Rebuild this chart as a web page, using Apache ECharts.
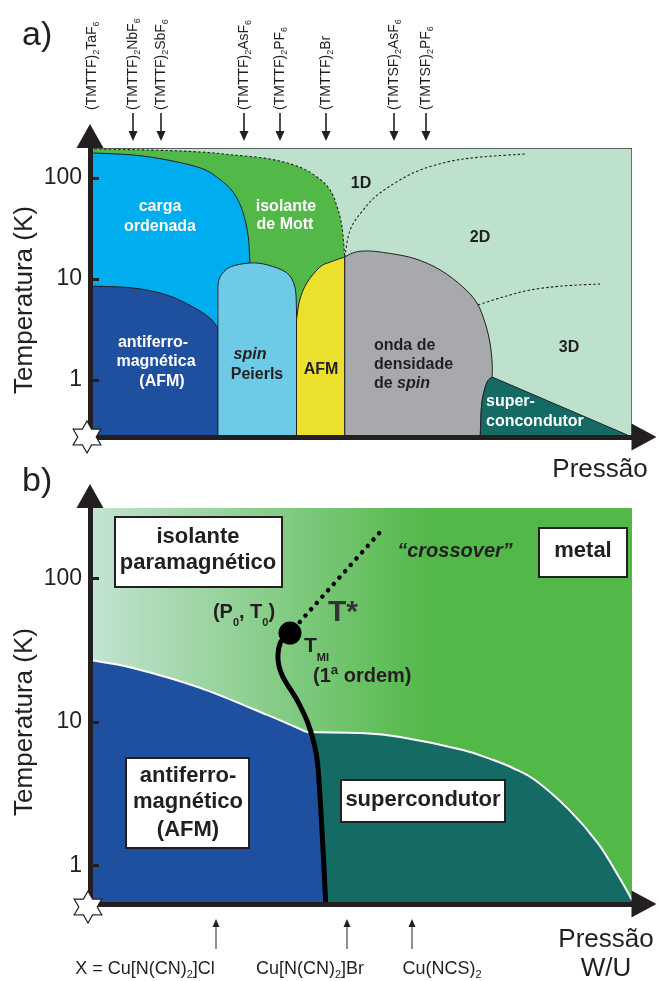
<!DOCTYPE html>
<html><head><meta charset="utf-8">
<script src="https://cdn.jsdelivr.net/npm/echarts@6/dist/echarts.min.js"></script>
<style>html,body{margin:0;padding:0;background:#fff;}#chart{width:659px;height:981px;}</style>
</head><body><div id="chart"></div>
<script>
// ===================== DATA =====================
// pressure in arbitrary units (0-100), temperature in K
const pressureRange = [0, 100];
const tempRangeA = [0.2727, 198];
const tempRangeB = [0.539, 310];
const tempTicks = [1, 10, 100];

// ---- panel a) (TMTTF)2X / (TMTSF)2X ----
const mottTopA = [[0,194],[11.1,189],[20.3,181],[26.4,169],[33.2,154],[38.7,128],[42.1,100],[44.3,76],[45.6,51.6],[46.5,32.7],[47.0,16.5]];
const chargeOrderTopA = [[0,177],[7.9,169],[14.2,151],[20.3,126],[23.4,102],[26.4,72.7],[28.2,46.1],[29.2,26.1],[29.5,14.4]];
const afmTopA = [[0,8.52],[7.9,8.15],[14.2,6.94],[19.0,5.28],[22.1,4.11],[23.6,3.27]];
const spinPeierlsTopA = [[23.6,8.33],[24.0,10.5],[25.8,13.1],[29.5,14.4],[32.7,13.8],[36.3,11.5],[37.8,8.33],[38.1,4.93]];
const afmDomeTopA = [[38.1,3.93],[38.7,6.2],[40.0,9.13],[42.4,13.1],[44.3,14.7],[47.0,16.5]];
const sdwTopA = [[47.0,16.5],[48.5,18.1],[50.4,18.9],[53.5,18.5],[59.6,16.1],[64.6,12.3],[68.8,8.33],[71.4,5.78],[72.9,3.67],[73.8,2.32],[74.2,1.47],[74.2,1.07]];
const scLeftA = [[74.2,1.07],[73.2,0.934],[72.3,0.592],[72.0,0.2727]];
const crossover1D2D = [[47.0,16.5],[48.0,30.6],[50.4,48.2],[53.5,71.0],[59.6,112],[65.9,144],[72.0,161],[80.6,173]];
const crossover2D3D = [[71.6,5.53],[76.2,6.63],[81.2,7.78],[87.3,8.53],[94.1,8.92]];
const compoundsA = ['(TMTTF){s|2}TaF{s|6}','(TMTTF){s|2}NbF{s|6}','(TMTTF){s|2}SbF{s|6}','(TMTTF){s|2}AsF{s|6}','(TMTTF){s|2}PF{s|6}','(TMTTF){s|2}Br','(TMTSF){s|2}AsF{s|6}','(TMTSF){s|2}PF{s|6}'];
const compoundArrowA = [false,true,true,true,true,true,true,true];

// ---- panel b) kappa-(BEDT-TTF)2X ----
const afmTopB = [[0,27.0],[7.9,23.8],[20.3,17.3],[32.7,11.2],[40.0,8.51]];
const scTopB = [[40.0,8.51],[49.8,8.38],[57.2,7.86],[68.8,6.38],[74.4,5.43],[78.0,4.78],[82.1,3.94],[88.4,2.44],[93.7,1.43],[97.6,0.832],[100,0.575]];
const firstOrderB = [[36.9,41.7],[35.1,35.5],[34.7,27.0],[35.6,20.6],[38.2,14.2],[40.2,9.84],[41.5,6.70],[42.1,4.63],[42.8,1.77],[43.5,0.539]];
const criticalPointB = [36.9, 41.7];
const crossoverB = [[38.7,49.8],[54.2,225]];
const saltsB = ['X = Cu[N(CN){s|2}]Cl','Cu[N(CN){s|2}]Br','Cu(NCS){s|2}'];

// ===================== RENDERING =====================
const INK = '#231f20';
const FONT = '"Liberation Sans", Arial, sans-serif';

function smoothSeg(px) {
  let d = '';
  const n = px.length;
  if (n < 2) return d;
  if (n === 2) return ' L' + px[1][0] + ',' + px[1][1];
  for (let i = 0; i < n - 1; i++) {
    const p0 = px[i - 1] || px[i], p1 = px[i], p2 = px[i + 1], p3 = px[i + 2] || px[i + 1];
    const c1 = [p1[0] + (p2[0] - p0[0]) / 6, p1[1] + (p2[1] - p0[1]) / 6];
    const c2 = [p2[0] - (p3[0] - p1[0]) / 6, p2[1] - (p3[1] - p1[1]) / 6];
    d += ' C' + c1[0] + ',' + c1[1] + ',' + c2[0] + ',' + c2[1] + ',' + p2[0] + ',' + p2[1];
  }
  return d;
}
function buildPath(api, runs, close) {
  let d = '';
  runs.forEach((run, k) => {
    const px = run.map(p => api.coord(p));
    d += (k === 0 ? 'M' : ' L') + px[0][0] + ',' + px[0][1];
    d += smoothSeg(px);
  });
  if (close) d += ' Z';
  return d;
}
let zc = 2;
function pathSeries(gi, runs, style, close = true) {
  return {
    type: 'custom', xAxisIndex: gi, yAxisIndex: gi, z: zc++, clip: true, silent: true,
    data: [runs[0][0]],
    renderItem: (params, api) => ({
      type: 'path', shape: { pathData: buildPath(api, runs, close) }, style: Object.assign({}, style)
    })
  };
}

const aMin = tempRangeA[0], aMax = tempRangeA[1];
const bMin = tempRangeB[0], bMax = tempRangeB[1];
const pL = pressureRange[0], pR = pressureRange[1];
const edge = { stroke: INK, lineWidth: 1 };
const dash = { fill: 'none', stroke: INK, lineWidth: 1.1, lineDash: [2.5, 2.2] };

const series = [
  // ---- panel a ----
  pathSeries(0, [[[pL, aMin]], [[pL, aMax]], [[pR, aMax]], [[pR, aMin]]], { fill: '#bde1cd' }),
  pathSeries(0, [mottTopA, [[47.0, aMin]], [[pL, aMin]]], { fill: '#52b848' }),
  pathSeries(0, [mottTopA], dash, false),
  pathSeries(0, [chargeOrderTopA, [[29.5, aMin]], [[pL, aMin]]], Object.assign({ fill: '#00aeef' }, edge)),
  pathSeries(0, [afmTopA, [[23.6, aMin]], [[pL, aMin]]], Object.assign({ fill: '#1f4f9f' }, edge)),
  pathSeries(0, [[[23.6, aMin]], spinPeierlsTopA, [[38.1, aMin]]], Object.assign({ fill: '#6dcbe8' }, edge)),
  pathSeries(0, [[[38.1, aMin]], afmDomeTopA, [[47.0, aMin]]], Object.assign({ fill: '#ebe12c' }, edge)),
  pathSeries(0, [[[47.0, aMin]], sdwTopA, scLeftA], Object.assign({ fill: '#a7a9ac' }, edge)),
  pathSeries(0, [scLeftA, [[pR, aMin]]], Object.assign({ fill: '#136b63' }, edge)),
  pathSeries(0, [crossover1D2D], dash, false),
  pathSeries(0, [crossover2D3D], dash, false),
  pathSeries(0, [[[pL, aMax]], [[pR, aMax]], [[pR, aMin]]], { fill: 'none', stroke: '#3a3a3a', lineWidth: 1.3 }, false),
  // ---- panel b ----
  pathSeries(1, [[[pL, bMin]], [[pL, bMax]], [[pR, bMax]], [[pR, bMin]]], {
    fill: new echarts.graphic.LinearGradient(0, 0, 1, 0, [
      { offset: 0, color: '#c3e4d2' }, { offset: 0.63, color: '#52b848' }, { offset: 1, color: '#52b848' }])
  }),
  pathSeries(1, [afmTopB, firstOrderB.slice(6), [[pL, bMin]]], { fill: '#1f4f9f' }),
  pathSeries(1, [scTopB, [[pR, bMin]], firstOrderB.slice(6).reverse()], { fill: '#136b63' }),
  pathSeries(1, [afmTopB], { fill: 'none', stroke: '#ffffff', lineWidth: 2 }, false),
  pathSeries(1, [scTopB], { fill: 'none', stroke: '#ffffff', lineWidth: 2 }, false),
  pathSeries(1, [firstOrderB], { fill: 'none', stroke: '#000', lineWidth: 5, lineCap: 'round' }, false),
  pathSeries(1, [crossoverB], { fill: 'none', stroke: '#000', lineWidth: 4.5, lineCap: 'round', lineDash: [0.1, 8.4] }, false),
  {
    type: 'custom', xAxisIndex: 1, yAxisIndex: 1, z: zc++, silent: true, clip: false,
    data: [criticalPointB],
    renderItem: (params, api) => {
      const c = api.coord([api.value(0), api.value(1)]);
      return { type: 'circle', shape: { cx: c[0], cy: c[1], r: 11.5 }, style: { fill: '#000' } };
    }
  }
];

function xAxis(gi) {
  return {
    gridIndex: gi, type: 'value', min: pL, max: pR, z: 50,
    axisLine: { show: true, onZero: false, lineStyle: { color: INK, width: 5 },
      symbol: ['none', 'triangle'], symbolSize: [27, 25], symbolOffset: [0, 12] },
    axisTick: { show: false }, axisLabel: { show: false }, splitLine: { show: false }
  };
}
function yAxis(gi, range) {
  return {
    gridIndex: gi, type: 'log', logBase: 10, min: range[0], max: range[1], z: 50,
    axisLine: { show: true, onZero: false, lineStyle: { color: INK, width: 5 },
      symbol: ['none', 'triangle'], symbolSize: [27, 24], symbolOffset: [0, 12] },
    axisTick: { show: true, inside: true, length: 9, lineStyle: { color: INK, width: 3 }, customValues: tempTicks },
    axisLabel: { customValues: tempTicks, fontSize: 23, color: INK, fontFamily: FONT, margin: 8 },
    splitLine: { show: false }, minorTick: { show: false }, minorSplitLine: { show: false }
  };
}

// ---- annotations ----
function txt(x, y, text, o = {}) {
  return {
    type: 'text', x, y, z: 100, silent: true, rotation: o.rotation || 0,
    style: {
      text, fontFamily: FONT, fontSize: o.size || 16, fontWeight: o.weight || 'bold',
      fontStyle: o.italic ? 'italic' : 'normal', fill: o.color || INK,
      align: o.align || 'center', verticalAlign: 'middle',
      lineHeight: o.lh, rich: o.rich
    }
  };
}
function subRich(size, weight) {
  return { s: { fontSize: size, fontWeight: weight, fontFamily: FONT, verticalAlign: 'bottom', fill: INK } };
}
function starPts(cx, cy, r, r0) {
  const pts = [];
  for (let k = 0; k < 12; k++) {
    const a = -Math.PI / 2 + k * Math.PI / 6, rr = k % 2 ? r0 : r;
    pts.push([cx + rr * Math.cos(a), cy + rr * Math.sin(a)]);
  }
  return pts;
}
function downArrow(x, y0, y1) {
  return [
    { type: 'line', z: 100, silent: true, shape: { x1: x, y1: y0, x2: x, y2: y1 - 8 }, style: { stroke: INK, lineWidth: 1.6 } },
    { type: 'polygon', z: 100, silent: true, shape: { points: [[x - 4.5, y1 - 10], [x + 4.5, y1 - 10], [x, y1]] }, style: { fill: INK } }
  ];
}
function upArrow(x, y0, y1) {
  return [
    { type: 'line', z: 100, silent: true, shape: { x1: x, y1: y0, x2: x, y2: y1 + 6 }, style: { stroke: INK, lineWidth: 1 } },
    { type: 'polygon', z: 100, silent: true, shape: { points: [[x - 3.5, y1 + 8], [x + 3.5, y1 + 8], [x, y1]] }, style: { fill: INK } }
  ];
}
function box(x, y, w, h) {
  return { type: 'rect', z: 99, silent: true, shape: { x, y, width: w, height: h }, style: { fill: '#fff', stroke: INK, lineWidth: 2 } };
}

const W = '#ffffff';
const compoundX = [92, 133, 161, 244, 280, 326, 394, 426];
const els = [];
// panel a texts
els.push(txt(22, 36, 'a)', { size: 34, weight: 'normal', align: 'left' }));
els.push(txt(25, 300, 'Temperatura (K)', { size: 26, weight: 'normal', rotation: Math.PI / 2 }));
els.push(txt(600, 470, 'Pressão', { size: 26, weight: 'normal' }));
compoundsA.forEach((c, i) => {
  els.push(txt(compoundX[i], 110, c, { size: 14, weight: 'normal', align: 'left', rotation: Math.PI / 2, lh: 18, rich: subRich(9, 'normal') }));
  if (compoundArrowA[i]) els.push(...downArrow(compoundX[i], 113, 141));
});
els.push(txt(160, 207, 'carga', { color: W }), txt(160, 227, 'ordenada', { color: W }));
els.push(txt(286, 207, 'isolante', { color: W }), txt(285, 225, 'de Mott', { color: W }));
els.push(txt(361, 184, '1D'), txt(480, 238, '2D'), txt(569, 348, '3D'));
els.push(txt(153, 343, 'antiferro-', { color: W }), txt(156, 362, 'magnética', { color: W }), txt(162, 382, '(AFM)', { color: W }));
els.push(txt(250, 355, 'spin', { italic: true }), txt(257, 375, 'Peierls'));
els.push(txt(321, 370, 'AFM'));
els.push(txt(374, 346, 'onda de', { align: 'left' }), txt(374, 365, 'densidade', { align: 'left' }),
  txt(374, 384, 'de {i|spin}', { align: 'left', rich: { i: { fontStyle: 'italic', fontWeight: 'bold', fontSize: 16, fontFamily: FONT, fill: INK } } }));
els.push(txt(486, 402, 'super-', { color: W, align: 'left' }), txt(486, 422, 'concondutor', { color: W, align: 'left' }));
els.push({ type: 'polygon', z: 120, silent: true, shape: { points: starPts(87, 437, 16, 9.2) }, style: { fill: '#fff', stroke: INK, lineWidth: 1.2 } });

// panel b texts
els.push(txt(22, 482, 'b)', { size: 34, weight: 'normal', align: 'left' }));
els.push(txt(25, 722, 'Temperatura (K)', { size: 26, weight: 'normal', rotation: Math.PI / 2 }));
els.push(box(115, 517, 167, 70), txt(198, 537, 'isolante', { size: 22 }), txt(198, 563, 'paramagnético', { size: 22 }));
els.push(box(539, 528, 88, 49), txt(583, 551, 'metal', { size: 22 }));
els.push(box(126, 758, 123, 90), txt(188, 776, 'antiferro-', { size: 22 }), txt(188, 802, 'magnético', { size: 22 }), txt(188, 830, '(AFM)', { size: 22 }));
els.push(box(341, 780, 164, 42), txt(423, 800, 'supercondutor', { size: 22 }));
els.push(txt(244, 612, '(P{s|0}, T{s|0})', { size: 20, lh: 32, rich: subRich(11, 'bold') }));
els.push(txt(304, 646, 'T{s|MI}', { size: 21, align: 'left', lh: 34, rich: subRich(11, 'bold') }));
els.push(txt(313, 676, '(1ª ordem)', { size: 20, align: 'left' }));
els.push(txt(328, 613, 'T*', { size: 30, align: 'left', color: '#333333' }));
els.push(txt(455, 551, '“crossover”', { size: 20, italic: true }));
els.push(txt(606, 940, 'Pressão', { size: 26, weight: 'normal' }), txt(606, 969, 'W/U', { size: 26, weight: 'normal' }));
const saltTextX = [145, 310, 442];
const saltArrowX = [216, 347, 412];
saltsB.forEach((s, i) => {
  els.push(txt(saltTextX[i], 969, s, { size: 18, weight: 'normal', lh: 22, rich: subRich(11, 'normal') }));
  els.push(...upArrow(saltArrowX[i], 949, 919));
});
els.push({ type: 'polygon', z: 120, silent: true, shape: { points: starPts(88, 907, 16, 9.2) }, style: { fill: '#fff', stroke: INK, lineWidth: 1.2 } });

const chart = echarts.init(document.getElementById('chart'), null, { renderer: 'canvas' });
chart.setOption({
  animation: false,
  backgroundColor: '#ffffff',
  grid: [
    { left: 90, top: 148, width: 542, height: 289 },
    { left: 90, top: 508, width: 542, height: 396 }
  ],
  xAxis: [xAxis(0), xAxis(1)],
  yAxis: [yAxis(0, tempRangeA), yAxis(1, tempRangeB)],
  series,
  graphic: { elements: els }
});
</script></body></html>
